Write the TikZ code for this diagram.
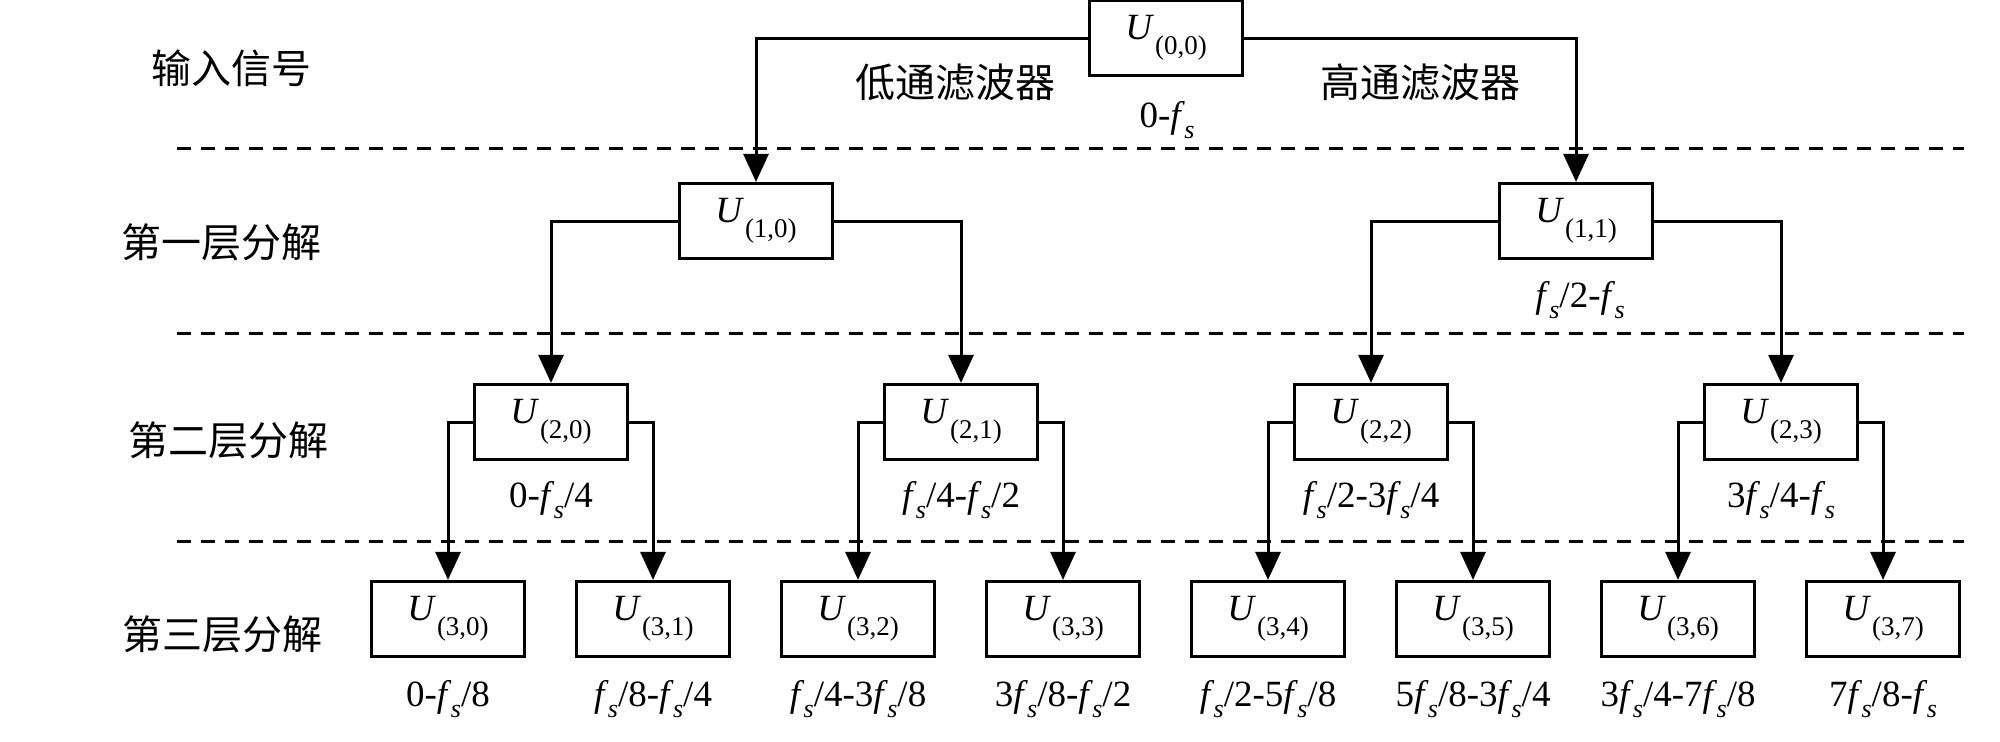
\documentclass[tikz,border=0pt]{standalone}
\usepackage{fontspec}
\setmainfont{Liberation Serif}
\newfontfamily\cjk{Noto Sans CJK SC}
\usetikzlibrary{arrows.meta}
\newcommand{\Uu}[1]{\textit{U}\kern0.5pt\raisebox{-0.4em}{\fontsize{13.5}{13.5}\selectfont(#1)}}
\newcommand{\fsx}{\textit{f}\kern-0.3pt\raisebox{-0.3em}{\fontsize{13}{13}\selectfont\textit{s}}}
\begin{document}
\begin{tikzpicture}[x=0.5pt,y=-0.5pt,
  box/.style={draw, line width=1.6pt, minimum width=76.5pt, minimum height=37.5pt, inner sep=0pt, font=\fontsize{18.5}{18.5}\selectfont},
  conn/.style={line width=1.5pt, -{Triangle[length=14pt,width=12.5pt]}},
  sepline/.style={line width=1.5pt, dash pattern=on 7pt off 5pt},
  lab/.style={font=\fontsize{18.5}{18.5}\selectfont, inner sep=0pt},
  rowlab/.style={font=\cjk\fontsize{20}{20}\selectfont, inner sep=0pt}]
\useasboundingbox (0,0) rectangle (2000,741);
% separators
\coordinate (s1a) at (177,148); \coordinate (s1b) at (1964,148);
\coordinate (s2a) at (177,333); \coordinate (s2b) at (1964,333);
\coordinate (s3a) at (177,541); \coordinate (s3b) at (1964,541);
\draw[sepline] (s1a) -- (s1b);
\draw[sepline] (s2a) -- (s2b);
\draw[sepline] (s3a) -- (s3b);
% row labels
\node[rowlab] (r0) at (231,68) {输入信号};
\node[rowlab] (r1) at (221,242) {第一层分解};
\node[rowlab] (r2) at (228,440) {第二层分解};
\node[rowlab] (r3) at (222,634) {第三层分解};
% boxes
\node[box] (U00) at (1166,38) {\Uu{0,0}};
\node[box] (U10) at (756,221) {\Uu{1,0}};
\node[box] (U11) at (1576,221) {\Uu{1,1}};
\node[box] (U20) at (551,422) {\Uu{2,0}};
\node[box] (U21) at (961,422) {\Uu{2,1}};
\node[box] (U22) at (1371,422) {\Uu{2,2}};
\node[box] (U23) at (1781,422) {\Uu{2,3}};
\node[box] (U30) at (448,619) {\Uu{3,0}};
\node[box] (U31) at (653,619) {\Uu{3,1}};
\node[box] (U32) at (858,619) {\Uu{3,2}};
\node[box] (U33) at (1063,619) {\Uu{3,3}};
\node[box] (U34) at (1268,619) {\Uu{3,4}};
\node[box] (U35) at (1473,619) {\Uu{3,5}};
\node[box] (U36) at (1678,619) {\Uu{3,6}};
\node[box] (U37) at (1883,619) {\Uu{3,7}};
% connectors
\draw[conn] (U00.west) -| (U10.north);
\draw[conn] (U00.east) -| (U11.north);
\draw[conn] (U10.west) -| (U20.north);
\draw[conn] (U10.east) -| (U21.north);
\draw[conn] (U11.west) -| (U22.north);
\draw[conn] (U11.east) -| (U23.north);
\draw[conn] (U20.west) -| (U30.north);
\draw[conn] (U20.east) -| (U31.north);
\draw[conn] (U21.west) -| (U32.north);
\draw[conn] (U21.east) -| (U33.north);
\draw[conn] (U22.west) -| (U34.north);
\draw[conn] (U22.east) -| (U35.north);
\draw[conn] (U23.west) -| (U36.north);
\draw[conn] (U23.east) -| (U37.north);
% filter labels
\node[rowlab] (lp) at (955,82) {低通滤波器};
\node[rowlab] (hp) at (1420,82) {高通滤波器};
% band labels
\node[lab] (b00) at (1167,120) {0-\fsx};
\node[lab] (b11) at (1580,300) {\fsx/2-\fsx};
\node[lab] (b20) at (551,500) {0-\fsx/4};
\node[lab] (b21) at (961,500) {\fsx/4-\fsx/2};
\node[lab] (b22) at (1371,500) {\fsx/2-3\fsx/4};
\node[lab] (b23) at (1781,500) {3\fsx/4-\fsx};
\node[lab] (b30) at (448,699) {0-\fsx/8};
\node[lab] (b31) at (653,699) {\fsx/8-\fsx/4};
\node[lab] (b32) at (858,699) {\fsx/4-3\fsx/8};
\node[lab] (b33) at (1063,699) {3\fsx/8-\fsx/2};
\node[lab] (b34) at (1268,699) {\fsx/2-5\fsx/8};
\node[lab] (b35) at (1473,699) {5\fsx/8-3\fsx/4};
\node[lab] (b36) at (1678,699) {3\fsx/4-7\fsx/8};
\node[lab] (b37) at (1883,699) {7\fsx/8-\fsx};
\end{tikzpicture}
\end{document}
